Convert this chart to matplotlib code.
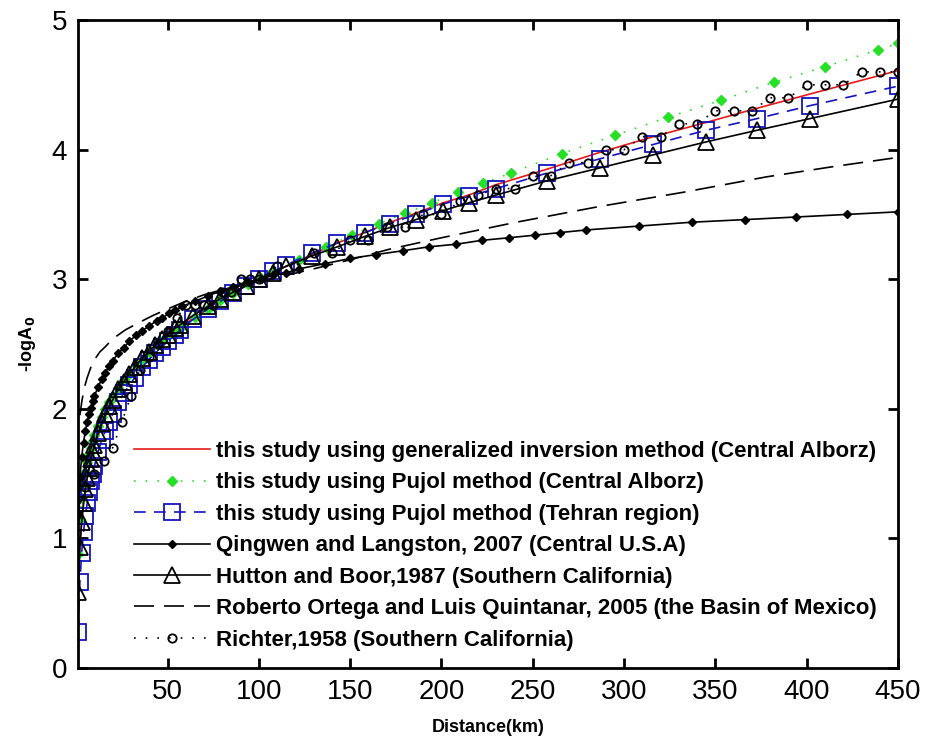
import matplotlib
matplotlib.use('Agg')
import matplotlib.pyplot as plt

# distances (km)
dist_model = [1, 2, 3, 4, 5, 6, 7, 8, 9, 10, 12, 14, 16, 18, 20, 23, 26, 29, 32,
              36, 40, 43, 47, 50, 54, 57, 64, 72, 79, 86, 93, 100, 108, 115,
              129, 143, 158, 172, 186, 201, 215, 230, 258, 287, 316, 345, 373, 402, 450]
dist_green = [1, 2, 3, 4, 5, 6, 7, 8, 9, 10, 12, 14, 16, 18, 20, 23, 26, 29, 33,
              36, 40, 44, 47, 51, 54, 58, 65, 72, 79, 86, 94, 101, 108, 122,
              137, 151, 166, 180, 195, 209, 223, 238, 266, 295, 324, 353, 382, 410, 439, 450]
dist_qing = [1, 2, 3, 4, 5, 6, 7, 8, 9, 10, 12, 14, 16, 18, 20, 23, 26, 29, 33,
             36, 40, 44, 47, 51, 54, 58, 65, 72, 79, 86, 94, 101, 108, 115,
             122, 136, 150, 164, 179, 193, 208, 222, 237, 251, 265, 279, 308, 337, 366,
             394, 422, 450]
dist_ortega = [2, 3, 4, 5, 6, 8, 10, 13, 16, 20, 27, 35, 42, 50, 60, 70, 80, 90, 100,
               115, 130, 150, 171, 200, 241, 286, 332, 378, 415, 450]
dist_richter = [5, 10, 15, 20, 25, 30, 35, 40, 45, 50, 55, 60, 65, 70, 75, 80, 85, 90, 95, 100,
                110, 120, 130, 140, 150, 160, 170, 180, 190, 200, 210, 220, 230, 240, 250,
                260, 270, 280, 290, 300, 310, 320, 330, 340, 350, 360, 370, 380, 390, 400,
                410, 420, 430, 440, 450]

# -logA0 values
inv_alborz = [0.62, 0.94, 1.13, 1.27, 1.37, 1.46, 1.53, 1.60, 1.65, 1.70,
              1.79, 1.87, 1.94, 1.99, 2.05, 2.12, 2.19, 2.24, 2.30,
              2.36, 2.42, 2.46, 2.51, 2.55, 2.60, 2.63, 2.70, 2.77, 2.84,
              2.89, 2.95, 3.00, 3.06, 3.10, 3.19, 3.28, 3.36, 3.44, 3.51,
              3.59, 3.65, 3.73, 3.85, 3.98, 4.10, 4.21, 4.32, 4.43, 4.61]
pujol_alborz = [0.88, 1.15, 1.31, 1.42, 1.51, 1.59, 1.65, 1.70, 1.75, 1.80,
                1.87, 1.94, 2.00, 2.05, 2.10, 2.16, 2.22, 2.27, 2.34,
                2.38, 2.44, 2.49, 2.52, 2.57, 2.60, 2.64, 2.71, 2.77, 2.84,
                2.89, 2.96, 3.01, 3.06, 3.15, 3.25, 3.34, 3.43, 3.51, 3.59,
                3.67, 3.74, 3.82, 3.97, 4.11, 4.25, 4.38, 4.52, 4.64, 4.77, 4.82]
pujol_tehran = [0.28, 0.66, 0.89, 1.05, 1.17, 1.27, 1.36, 1.44, 1.50, 1.56,
                1.67, 1.76, 1.83, 1.90, 1.96, 2.05, 2.12, 2.18, 2.24,
                2.32, 2.38, 2.43, 2.48, 2.52, 2.57, 2.61, 2.69, 2.77, 2.83,
                2.89, 2.95, 3.00, 3.06, 3.11, 3.20, 3.28, 3.36, 3.43, 3.50,
                3.58, 3.64, 3.70, 3.82, 3.93, 4.04, 4.15, 4.24, 4.34, 4.49]
qingwen = [1.20, 1.47, 1.63, 1.74, 1.83, 1.90, 1.96, 2.01, 2.06, 2.10,
           2.17, 2.23, 2.28, 2.33, 2.37, 2.43, 2.47, 2.52, 2.57,
           2.60, 2.64, 2.68, 2.70, 2.74, 2.76, 2.79, 2.83, 2.87, 2.91,
           2.94, 2.98, 3.00, 3.03, 3.05, 3.08, 3.12, 3.16, 3.19, 3.22,
           3.25, 3.27, 3.30, 3.32, 3.34, 3.36, 3.38, 3.41, 3.44, 3.46,
           3.48, 3.50, 3.52]
hutton = [0.59, 0.93, 1.13, 1.27, 1.38, 1.47, 1.54, 1.61, 1.67, 1.72,
          1.81, 1.89, 1.96, 2.02, 2.07, 2.15, 2.21, 2.27, 2.32,
          2.39, 2.44, 2.49, 2.54, 2.57, 2.62, 2.65, 2.72, 2.79, 2.85,
          2.90, 2.95, 3.00, 3.05, 3.10, 3.18, 3.25, 3.33, 3.40, 3.46,
          3.53, 3.59, 3.65, 3.76, 3.86, 3.96, 4.06, 4.15, 4.24, 4.39]
ortega = [1.95, 2.05, 2.13, 2.19, 2.24, 2.32, 2.38, 2.44, 2.48, 2.54,
          2.61, 2.67, 2.72, 2.77, 2.83, 2.88, 2.92, 2.95, 2.98, 3.03,
          3.08, 3.15, 3.23, 3.32, 3.44, 3.56, 3.67, 3.79, 3.87, 3.94]
richter = [1.4, 1.5, 1.6, 1.7, 1.9, 2.1, 2.3, 2.4, 2.5, 2.6, 2.7, 2.8, 2.8, 2.8, 2.8,
           2.9, 2.9, 3.0, 3.0, 3.0,
           3.1, 3.1, 3.2, 3.2, 3.3, 3.3, 3.4, 3.4, 3.5, 3.5, 3.6, 3.65, 3.7, 3.7, 3.8,
           3.8, 3.9, 3.9, 4.0, 4.0, 4.1, 4.1, 4.2, 4.2, 4.3, 4.3, 4.3, 4.4, 4.4, 4.5,
           4.5, 4.5, 4.6, 4.6, 4.6]

labels = ['this study using generalized inversion method (Central Alborz)',
          'this study using Pujol method (Central Alborz)',
          'this study using Pujol method (Tehran region)',
          'Qingwen and Langston, 2007 (Central U.S.A)',
          'Hutton and Boor,1987 (Southern California)',
          'Roberto Ortega and Luis Quintanar, 2005 (the Basin of Mexico)',
          'Richter,1958 (Southern California)']

xticks = [50, 100, 150, 200, 250, 300, 350, 400, 450]
yticks = [0, 1, 2, 3, 4, 5]

plt.rcParams['font.family'] = ['Liberation Sans', 'DejaVu Sans']

fig = plt.figure(figsize=(9.29, 7.42), dpi=100)
ax = fig.add_axes([0.084, 0.0997, 0.8827, 0.8733])

blue = (0.08, 0.08, 0.75)
green = (0.15, 0.88, 0.15)

ax.plot(dist_model, inv_alborz, '-', color=(0.9, 0.1, 0.1), lw=1.2, label=labels[0])
ax.plot(dist_green, pujol_alborz, ':', color=green, lw=1.2, dashes=(1, 6),
        marker='D', ms=5, mfc=green, mec=green, label=labels[1])
ax.plot(dist_model, pujol_tehran, '--', color=blue, lw=1.2, dashes=(7, 5),
        marker='s', ms=11, mfc='none', mec=blue, mew=1.3, label=labels[2])
ax.plot(dist_qing, qingwen, '-', color='k', lw=1.2,
        marker='D', ms=4, mfc='k', mec='k', label=labels[3])
ax.plot(dist_model, hutton, '-', color='k', lw=1.2,
        marker='^', ms=11, mfc='none', mec='k', mew=1.3, label=labels[4])
ax.plot(dist_ortega, ortega, '--', color='k', lw=1.2, dashes=(12, 6), label=labels[5])
ax.plot(dist_richter, richter, ':', color='k', lw=1.2, dashes=(1, 6),
        marker='o', ms=6, mfc='none', mec='k', mew=1.3, label=labels[6])

ax.set_xlim(1, 450)
ax.set_ylim(0, 5)
ax.set_xticks(xticks)
ax.set_yticks(yticks)
ax.tick_params(direction='in', length=7, width=2, top=True, right=True,
               labelsize=20, pad=8)
for sp in ax.spines.values():
    sp.set_linewidth(2)

ax.set_xlabel('Distance(km)', fontsize=13, fontweight='bold', labelpad=10)
ax.set_ylabel('-logA$_{\\mathbf{0}}$', fontsize=13, fontweight='bold', labelpad=10)

leg = ax.legend(loc='upper left', bbox_to_anchor=(134 / 929, 1 - 441 / 742),
                bbox_transform=fig.transFigure, frameon=False, numpoints=1,
                prop={'weight': 'bold', 'size': 16}, handlelength=3.4,
                handletextpad=0.3, labelspacing=0.47, borderpad=0, borderaxespad=0)

fig.savefig('out.png', dpi=100)
